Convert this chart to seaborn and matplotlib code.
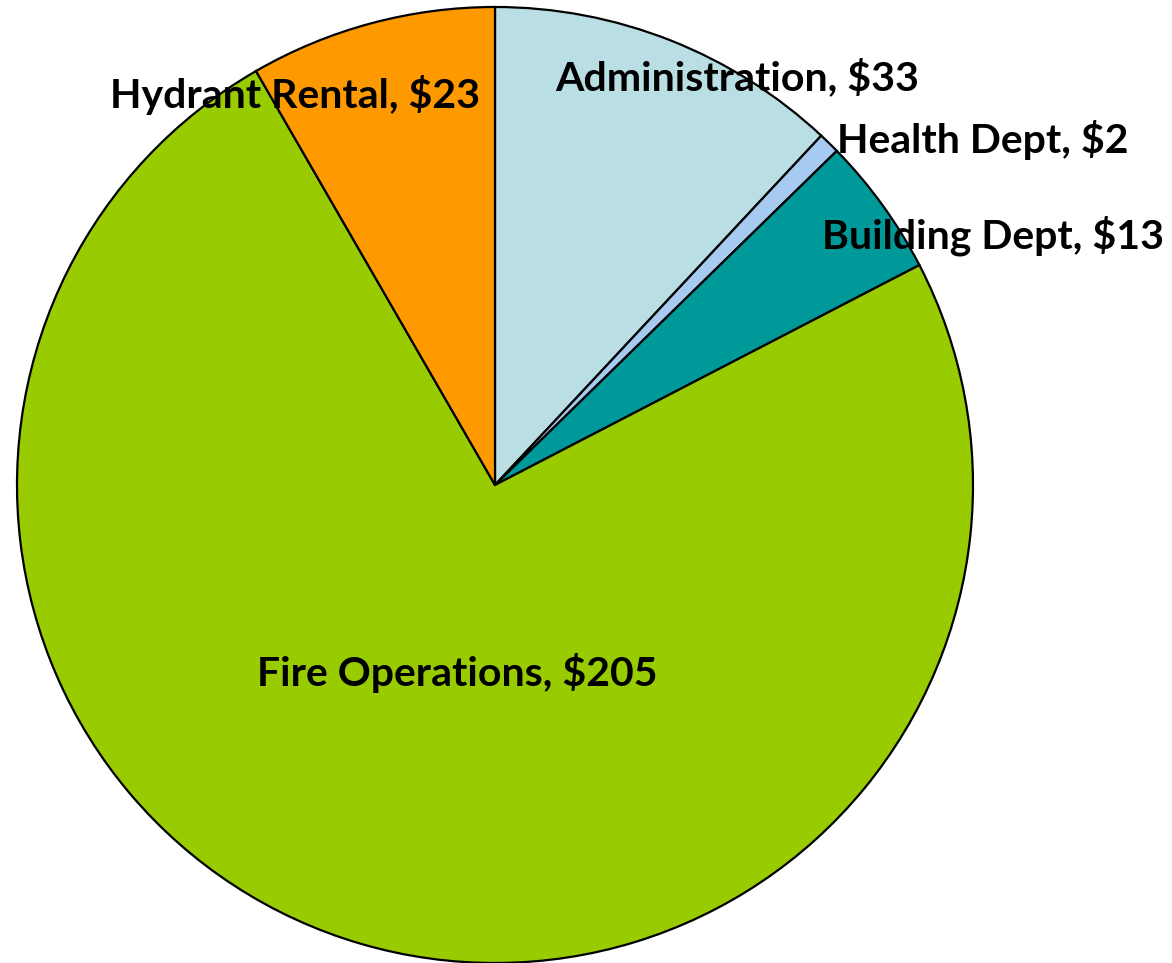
import numpy as np
import pandas as pd
import seaborn as sns
import matplotlib.pyplot as plt

# Budget slices, clockwise from 12 o'clock
categories = ["Administration", "Health Dept", "Building Dept", "Fire Operations", "Hydrant Rental"]
values = [33, 2, 13, 205, 23]
slice_colors = ["#B9DFE4", "#A6CAF0", "#009999", "#99CC00", "#FF9900"]

# label anchor positions (in pie radius units)
label_pos = {
    "Administration": (0.506, 0.851),
    "Health Dept": (1.02, 0.722),
    "Building Dept": (1.042, 0.521),
    "Fire Operations": (-0.079, -0.393),
    "Hydrant Rental": (-0.418, 0.816),
}

sns.set_theme(style="white")
plt.rcParams['font.family'] = ['Lato', 'DejaVu Sans']

fig = plt.figure(figsize=(11.72, 9.63), dpi=100)
ax = fig.add_axes([17 / 1172, 0.0, 956 / 1172, 956 / 963])

ax.pie(values, colors=sns.color_palette(slice_colors), startangle=90, counterclock=False,
       wedgeprops=dict(edgecolor="black", linewidth=1.6), radius=1)

for cat, val in zip(categories, values):
    x, y = label_pos[cat]
    ax.text(x, y, f"{cat}, ${val}", ha="center", va="center", fontsize=29.5,
            fontweight="bold", color="black")

ax.set_xlim(-1, 1)
ax.set_ylim(-1, 1)
ax.set_aspect("auto")
ax.axis("off")

fig.savefig("out.png", dpi=100)
